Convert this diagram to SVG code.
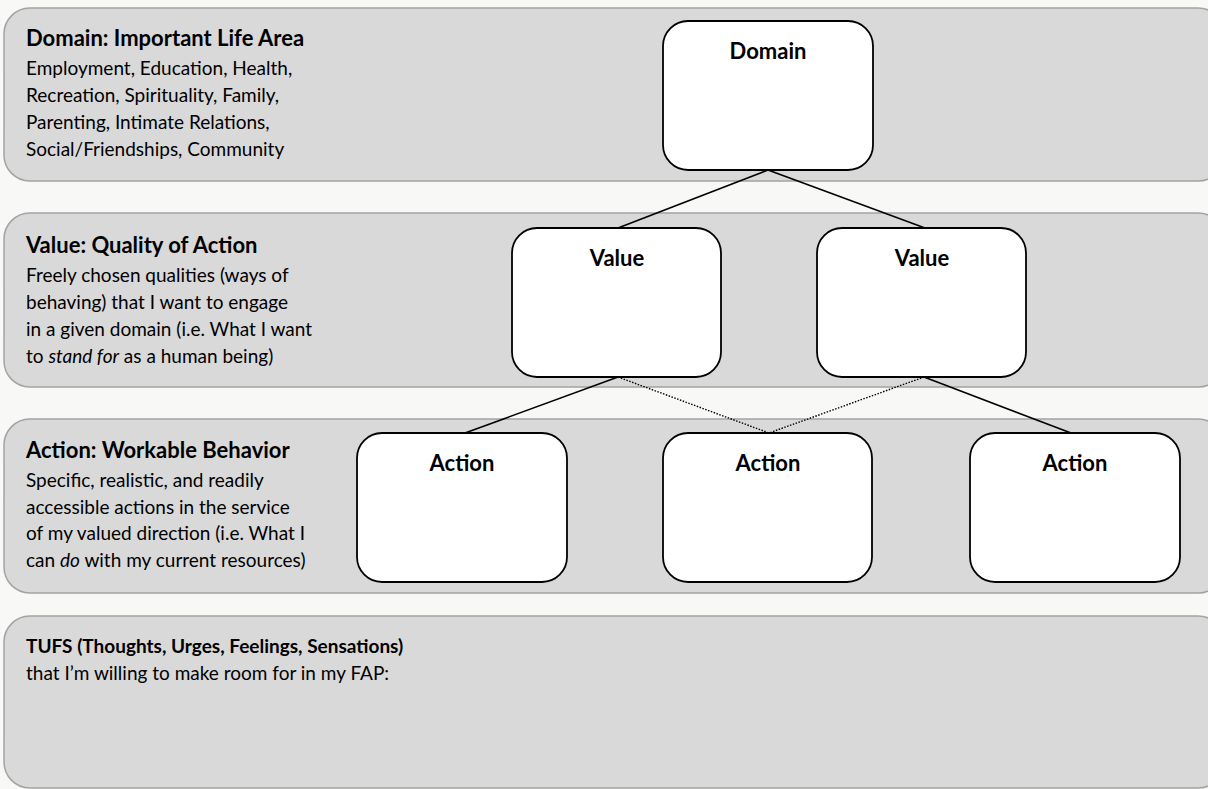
<svg xmlns="http://www.w3.org/2000/svg" width="1208" height="789" viewBox="0 0 1208 789">
<style>
.band{fill:#d9d9d9;stroke:#a3a3a3;stroke-width:1.5}
.node{fill:#ffffff;stroke:#000000;stroke-width:1.8}
.h{font-family:Lato,"Open Sans",sans-serif;font-weight:bold;font-size:22px;fill:#000}
.h2{font-family:Lato,"Open Sans",sans-serif;font-weight:bold;font-size:19px;fill:#000}
.t{font-family:Lato,"Open Sans",sans-serif;font-size:19px;fill:#000}
.n{font-family:Lato,"Open Sans",sans-serif;font-weight:bold;font-size:22px;fill:#000;text-anchor:middle}
.c{stroke:#000;stroke-width:1.6;fill:none}
.d{stroke:#000;stroke-width:1.4;fill:none;stroke-dasharray:1.5 1.5}
</style>
<rect x="0" y="0" width="1208" height="789" fill="#f8f8f6"/>
<g id="band-domain">
<rect class="band" x="4" y="8" width="1220" height="173" rx="26" ry="26"/>
<text class="h" x="26" y="46">Domain: Important Life Area</text>
<text class="t" x="26" y="75">Employment, Education, Health,</text>
<text class="t" x="26" y="102">Recreation, Spirituality, Family,</text>
<text class="t" x="26" y="129">Parenting, Intimate Relations,</text>
<text class="t" x="26" y="156">Social/Friendships, Community</text>
</g>
<g id="band-value">
<rect class="band" x="4" y="213" width="1220" height="174" rx="26" ry="26"/>
<text class="h" x="26" y="253">Value: Quality of Action</text>
<text class="t" x="26" y="282">Freely chosen qualities (ways of</text>
<text class="t" x="26" y="309">behaving) that I want to engage</text>
<text class="t" x="26" y="336">in a given domain (i.e. What I want</text>
<text class="t" x="26" y="363">to <tspan font-style="italic">stand for</tspan> as a human being)</text>
</g>
<g id="band-action">
<rect class="band" x="4" y="419" width="1220" height="174" rx="26" ry="26"/>
<text class="h" x="26" y="458">Action: Workable Behavior</text>
<text class="t" x="26" y="487">Specific, realistic, and readily</text>
<text class="t" x="26" y="514">accessible actions in the service</text>
<text class="t" x="26" y="540">of my valued direction (i.e. What I</text>
<text class="t" x="26" y="567">can <tspan font-style="italic">do</tspan> with my current resources)</text>
</g>
<g id="band-tufs">
<rect class="band" x="4" y="616" width="1220" height="172" rx="26" ry="26"/>
<text class="h2" x="26" y="653">TUFS (Thoughts, Urges, Feelings, Sensations)</text>
<text class="t" x="26" y="680">that I’m willing to make room for in my FAP:</text>
</g>
<g id="connectors">
<line class="c" x1="768" y1="170" x2="618" y2="228"/>
<line class="c" x1="768" y1="170" x2="925" y2="228"/>
<line class="c" x1="618" y1="377" x2="465" y2="433"/>
<line class="d" x1="618" y1="377" x2="769" y2="433"/>
<line class="d" x1="924" y1="377" x2="769" y2="433"/>
<line class="c" x1="924" y1="377" x2="1071" y2="433"/>
</g>
<g id="node-domain">
<rect class="node" x="663" y="21" width="210" height="149" rx="25" ry="25"/>
<text class="n" x="768" y="59">Domain</text>
</g>
<g id="node-value1">
<rect class="node" x="512" y="228" width="209" height="149" rx="25" ry="25"/>
<text class="n" x="617" y="266">Value</text>
</g>
<g id="node-value2">
<rect class="node" x="817" y="228" width="209" height="149" rx="25" ry="25"/>
<text class="n" x="922" y="266">Value</text>
</g>
<g id="node-action1">
<rect class="node" x="357" y="433" width="210" height="149" rx="25" ry="25"/>
<text class="n" x="462" y="471">Action</text>
</g>
<g id="node-action2">
<rect class="node" x="663" y="433" width="209" height="149" rx="25" ry="25"/>
<text class="n" x="768" y="471">Action</text>
</g>
<g id="node-action3">
<rect class="node" x="970" y="433" width="210" height="149" rx="25" ry="25"/>
<text class="n" x="1075" y="471">Action</text>
</g>
</svg>
